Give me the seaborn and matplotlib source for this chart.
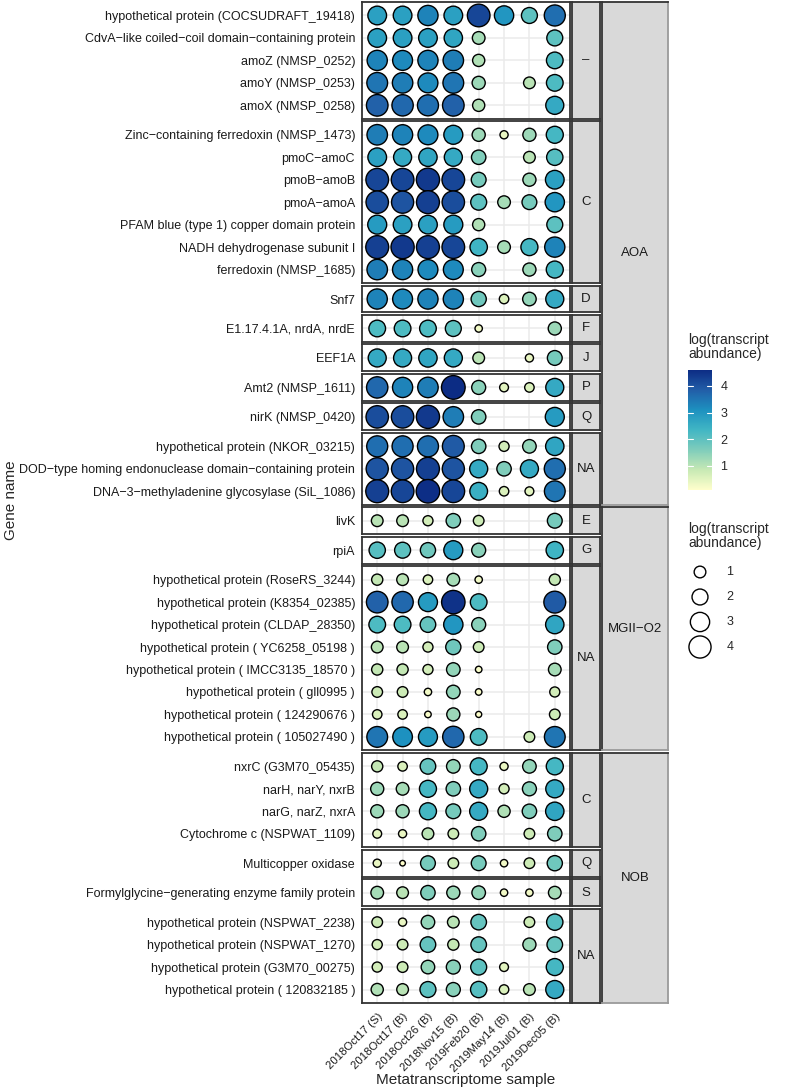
import numpy as np
import pandas as pd
import matplotlib
matplotlib.use("Agg")
import matplotlib.pyplot as plt
import seaborn as sns

# samples on the x axis
samples = ["2018Oct17 (S)", "2018Oct17 (B)", "2018Oct26 (B)", "2018Nov15 (B)",
           "2019Feb20 (B)", "2019May14 (B)", "2019Jul01 (B)", "2019Dec05 (B)"]

genes = [
    "hypothetical protein (COCSUDRAFT_19418)",
    "CdvA\u2212like coiled\u2212coil domain\u2212containing protein",
    "amoZ (NMSP_0252)", "amoY (NMSP_0253)", "amoX (NMSP_0258)",
    "Zinc\u2212containing ferredoxin (NMSP_1473)",
    "pmoC\u2212amoC", "pmoB\u2212amoB", "pmoA\u2212amoA",
    "PFAM blue (type 1) copper domain protein",
    "NADH dehydrogenase subunit I", "ferredoxin (NMSP_1685)",
    "Snf7", "E1.17.4.1A, nrdA, nrdE", "EEF1A", "Amt2 (NMSP_1611)", "nirK (NMSP_0420)",
    "hypothetical protein (NKOR_03215)",
    "DOD\u2212type homing endonuclease domain\u2212containing protein",
    "DNA\u22123\u2212methyladenine glycosylase (SiL_1086)",
    "livK", "rpiA",
    "hypothetical protein (RoseRS_3244)", "hypothetical protein (K8354_02385)",
    "hypothetical protein (CLDAP_28350)", "hypothetical protein ( YC6258_05198 )",
    "hypothetical protein ( IMCC3135_18570 )", "hypothetical protein ( gll0995 )",
    "hypothetical protein ( 124290676 )", "hypothetical protein ( 105027490 )",
    "nxrC (G3M70_05435)", "narH, narY, nxrB", "narG, narZ, nxrA",
    "Cytochrome c (NSPWAT_1109)", "Multicopper oxidase",
    "Formylglycine\u2212generating enzyme family protein",
    "hypothetical protein (NSPWAT_2238)", "hypothetical protein (NSPWAT_1270)",
    "hypothetical protein (G3M70_00275)", "hypothetical protein ( 120832185 )",
]
groups = ["AOA"] * 20 + ["MGII\u2212O2"] * 10 + ["NOB"] * 10
cogs = (["\u2013"] * 5 + ["C"] * 7 + ["D", "F", "J", "P", "Q"] + ["NA"] * 3
        + ["E", "G"] + ["NA"] * 8
        + ["C"] * 4 + ["Q", "S"] + ["NA"] * 4)

n = np.nan
s1 = [2.8, 2.8, 3.3, 3.5, 3.8, 3.4, 2.8, 4.2, 4.1, 2.9, 4.3, 3.4, 3.3, 2.2, 2.6, 3.7, 4.1, 3.6, 4.0, 4.3,
      1.0, 2.1, 0.9, 3.8, 2.2, 1.0, 0.9, 0.8, 0.6, 3.5,
      0.9, 1.3, 1.3, 0.5, 0.4, 1.2, 0.8, 0.7, 0.7, 1.1]
s2 = [2.8, 2.8, 3.2, 3.4, 3.7, 3.3, 2.6, 4.2, 4.0, 2.8, 4.4, 3.3, 3.2, 2.2, 2.6, 3.3, 4.1, 3.6, 4.0, 4.2,
      1.0, 2.0, 1.0, 3.7, 2.2, 1.0, 0.9, 0.8, 0.6, 3.1,
      0.6, 1.2, 1.3, 0.4, 0.1, 1.0, 0.4, 0.8, 0.8, 1.0]
s3 = [3.3, 2.8, 3.3, 3.2, 3.6, 3.2, 2.7, 4.4, 4.3, 2.8, 4.3, 3.2, 3.3, 2.2, 2.7, 3.4, 4.4, 3.6, 4.3, 4.55,
      0.7, 1.8, 0.6, 2.9, 1.9, 0.7, 0.7, 0.3, 0.2, 2.9,
      1.9, 2.3, 2.3, 1.0, 1.7, 1.6, 1.4, 1.9, 1.4, 2.0]
s4 = [2.8, 2.7, 3.4, 3.5, 3.8, 2.9, 2.6, 4.2, 4.1, 2.9, 4.2, 3.2, 3.3, 2.0, 2.6, 4.6, 3.4, 3.9, 4.0, 4.2,
      1.6, 2.9, 1.2, 4.5, 3.0, 1.8, 1.4, 1.4, 1.3, 3.7,
      1.4, 1.6, 1.7, 0.8, 0.8, 1.3, 1.0, 0.9, 1.5, 1.5]
s5 = [4.2, 1.2, 1.1, 1.3, 1.1, 1.3, 1.6, 1.7, 2.0, 1.1, 2.4, 1.5, 1.8, 0.3, 1.0, 1.5, 1.6, 1.6, 2.6, 2.5,
      0.8, 1.5, 0.3, 2.2, 1.5, 0.8, 0.2, 0.2, 0.15, 2.2,
      2.3, 2.6, 2.6, 1.6, 1.7, 1.4, 1.9, 1.9, 2.0, 2.1]
s6 = [3.0, n, n, n, n, 0.4, n, n, 1.2, n, 1.2, n, 0.6, n, n, 0.5, n, 0.7, 1.6, 0.6,
      n, n, n, n, n, n, n, n, n, n,
      0.4, 0.7, 1.1, n, 0.3, 0.3, n, n, 0.5, 0.6]
s7 = [2.0, n, n, 1.0, n, 1.3, 1.0, 1.3, 1.7, n, 2.3, 1.3, 1.4, n, 0.4, 0.6, n, 1.4, 2.6, 0.5,
      n, n, n, n, n, n, n, n, n, 0.8,
      1.4, 1.5, 1.6, 0.8, 0.8, 0.3, 0.8, 1.3, n, 1.0]
s8 = [3.6, 2.0, 2.2, 2.2, 2.6, 2.3, 2.1, 2.8, 3.0, 2.0, 3.3, 2.3, 2.6, 1.3, 1.7, 2.6, 2.9, 2.7, 3.6, 3.5,
      1.7, 2.4, 0.9, 3.9, 2.7, 1.6, 1.2, 0.7, 0.8, 3.5,
      2.3, 2.6, 2.7, 1.6, 1.8, 1.2, 2.1, 1.9, 2.3, 2.6]

legend_values = [1, 2, 3, 4]
cbar_ticks = [1, 2, 3, 4]

df = pd.DataFrame({"gene": genes, "group": groups, "cog": cogs})
for name, col in zip(samples, [s1, s2, s3, s4, s5, s6, s7, s8]):
    df[name] = col
long = df.melt(id_vars=["gene", "group", "cog"], var_name="sample", value_name="abund").dropna()
long["xpos"] = long["sample"].map({s: i for i, s in enumerate(samples)})

sns.set_style("white")
plt.rcParams["font.family"] = ["Liberation Sans", "DejaVu Sans"]

norm = (0.1, 4.6)
sizes = (16, 290)
# 7-class YlGnBu as used by ggplot's distiller
cmap = sns.blend_palette(["#ffffcc", "#c7e9b4", "#7fcdbb", "#41b6c4",
                          "#1d91c0", "#225ea8", "#0c2c84"], as_cmap=True)
dark = "#333333"
strip_bg = "#d9d9d9"

# panels in order of appearance
panels = []
for g, c in zip(groups, cogs):
    if not panels or panels[-1] != (g, c):
        panels.append((g, c))
counts = [sum(1 for g, c in zip(groups, cogs) if (g, c) == p) for p in panels]
ratios = [k + 0.2 for k in counts]

W, H = 788, 1088
fig = plt.figure(figsize=(W / 100, H / 100), dpi=100)
top, bottom = 1 - 2 / H, 1 - 1003 / H
hs = 0.039
gs_p = fig.add_gridspec(len(panels), 1, left=362 / W, right=570 / W, top=top, bottom=bottom,
                        height_ratios=ratios, hspace=hs)
gs_s = fig.add_gridspec(len(panels), 1, left=572 / W, right=600 / W, top=top, bottom=bottom,
                        height_ratios=ratios, hspace=hs)
gs_o = fig.add_gridspec(len(panels), 1, left=602 / W, right=668 / W, top=top, bottom=bottom,
                        height_ratios=ratios, hspace=hs)

for i, (g, c) in enumerate(panels):
    ax = fig.add_subplot(gs_p[i])
    sub = long[(long["group"] == g) & (long["cog"] == c)]
    rows = [gn for gn, gg, cc in zip(genes, groups, cogs) if gg == g and cc == c]
    sub = sub.assign(ypos=sub["gene"].map({r: j for j, r in enumerate(rows)}))
    sns.scatterplot(data=sub, x="xpos", y="ypos", hue="abund", size="abund",
                    hue_norm=norm, size_norm=norm, palette=cmap, sizes=sizes,
                    edgecolor="black", linewidth=1.0, legend=False, ax=ax, zorder=3)
    ax.set_xlim(-0.6, len(samples) - 0.4)
    ax.set_ylim(len(rows) - 0.4, -0.6)
    ax.set_yticks(range(len(rows)))
    ax.set_yticklabels(rows, fontsize=9, color="#1a1a1a")
    ax.set_xticks(range(len(samples)))
    if i == len(panels) - 1:
        ax.set_xticklabels(samples, rotation=45, ha="right", rotation_mode="anchor",
                           fontsize=8.2, color="#1a1a1a")
    else:
        ax.set_xticklabels([])
    ax.set_xlabel("")
    ax.set_ylabel("")
    ax.grid(True, color="#ebebeb", lw=1.1, zorder=0)
    ax.set_axisbelow(True)
    ax.tick_params(length=3, width=0.8, color=dark, pad=2)
    ax.tick_params(axis="x", pad=3)
    for sp in ax.spines.values():
        sp.set_color(dark)
        sp.set_linewidth(1.3)

    sax = fig.add_subplot(gs_s[i])
    sax.set_facecolor(strip_bg)
    sax.set_xticks([])
    sax.set_yticks([])
    for sp in sax.spines.values():
        sp.set_color(dark)
        sp.set_linewidth(1.3)
    sax.text(0.5, 0.5, c, ha="center", va="center", fontsize=9.5, color="#1a1a1a",
             transform=sax.transAxes)

# outer strips
start = 0
for g in ["AOA", "MGII\u2212O2", "NOB"]:
    k = sum(1 for p in panels if p[0] == g)
    oax = fig.add_subplot(gs_o[start:start + k])
    start += k
    oax.set_facecolor(strip_bg)
    oax.set_xticks([])
    oax.set_yticks([])
    for name, sp in oax.spines.items():
        sp.set_color(dark if name in ("left", "top") else "#9a9a9a")
        sp.set_linewidth(1.3)
    oax.text(0.5, 0.5, g, ha="center", va="center", fontsize=9.5, color="#1a1a1a",
             transform=oax.transAxes)

fig.text(11 / W, 1 - 500 / H, "Gene name", rotation=90, ha="center", va="center", fontsize=11)
fig.text(466 / W, 1 - 1080 / H, "Metatranscriptome sample", ha="center", va="center", fontsize=11)

# colour bar
cax = fig.add_axes([688 / W, 1 - 490 / H, 24 / W, 120 / H])
sm = plt.cm.ScalarMappable(cmap=cmap, norm=plt.Normalize(*norm))
cb = fig.colorbar(sm, cax=cax, ticks=cbar_ticks)
cb.outline.set_visible(False)
cax.tick_params(length=0, labelsize=9, pad=6)
for t in cbar_ticks:
    cax.plot([0, 0.2], [t, t], color="white", lw=0.8, transform=cax.get_yaxis_transform())
    cax.plot([0.8, 1], [t, t], color="white", lw=0.8, transform=cax.get_yaxis_transform())
fig.text(688 / W, 1 - 333 / H, "log(transcript\nabundance)", ha="left", va="top",
         fontsize=10, linespacing=1.0)

# size legend
fig.text(688 / W, 1 - 522 / H, "log(transcript\nabundance)", ha="left", va="top",
         fontsize=10, linespacing=1.0)
lax = fig.add_axes([688 / W, 1 - 659.5 / H, 24 / W, 100 / H])
leg = pd.DataFrame({"v": legend_values, "pos": range(len(legend_values)), "x": 0})
sns.scatterplot(data=leg, x="x", y="pos", size="v", size_norm=norm, sizes=sizes,
                color="white", edgecolor="black", linewidth=1.0, legend=False, ax=lax)
lax.set_xlim(-1, 1)
lax.set_ylim(len(legend_values) - 0.5, -0.5)
lax.axis("off")
for p, v in zip(leg["pos"], leg["v"]):
    lax.text(2.2, p, str(v), ha="left", va="center", fontsize=9, clip_on=False)

fig.savefig("out.png", dpi=100)
